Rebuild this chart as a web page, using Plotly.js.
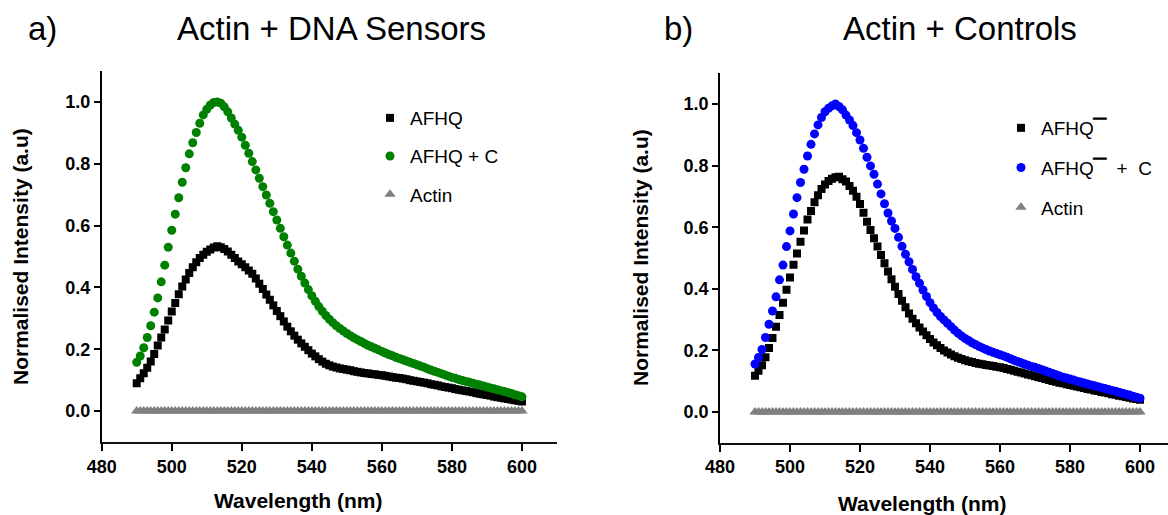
<!DOCTYPE html>
<html>
<head>
<meta charset="utf-8">
<script src="https://cdn.plot.ly/plotly-3.0.1.min.js"></script>
<style>
html, body { margin: 0; padding: 0; overflow: hidden; background: #ffffff; }
#chart { width: 1176px; height: 515px; }
</style>
</head>
<body>
<div id="chart"></div>
<script>
// ---- Data ----
const wavelength = [
  490,491,492,493,494,495,496,497,498,499,
  500,501,502,503,504,505,506,507,508,509,
  510,511,512,513,514,515,516,517,518,519,
  520,521,522,523,524,525,526,527,528,529,
  530,531,532,533,534,535,536,537,538,539,
  540,541,542,543,544,545,546,547,548,549,
  550,551,552,553,554,555,556,557,558,559,
  560,561,562,563,564,565,566,567,568,569,
  570,571,572,573,574,575,576,577,578,579,
  580,581,582,583,584,585,586,587,588,589,
  590,591,592,593,594,595,596,597,598,599,
  600
];

// Panel a) Actin + DNA Sensors
const afhq = [
  0.090,0.106,0.122,0.140,0.160,0.185,0.212,0.238,0.264,0.293,
  0.322,0.350,0.378,0.403,0.426,0.447,0.465,0.481,0.495,0.506,
  0.515,0.523,0.529,0.533,0.530,0.524,0.516,0.506,0.495,0.484,
  0.475,0.465,0.455,0.444,0.429,0.412,0.395,0.377,0.360,0.342,
  0.324,0.307,0.290,0.273,0.258,0.244,0.231,0.219,0.208,0.197,
  0.186,0.177,0.168,0.160,0.153,0.148,0.144,0.141,0.138,0.136,
  0.134,0.132,0.129,0.127,0.125,0.123,0.122,0.120,0.119,0.117,
  0.116,0.114,0.112,0.110,0.108,0.107,0.105,0.103,0.100,0.098,
  0.096,0.094,0.092,0.090,0.087,0.085,0.083,0.080,0.078,0.076,
  0.074,0.071,0.069,0.067,0.065,0.063,0.061,0.058,0.056,0.054,
  0.052,0.050,0.047,0.045,0.043,0.041,0.039,0.037,0.035,0.033,
  0.031
];
const afhqC = [
  0.158,0.178,0.205,0.238,0.276,0.320,0.366,0.418,0.472,0.530,
  0.585,0.637,0.690,0.740,0.787,0.832,0.868,0.901,0.931,0.958,
  0.976,0.990,0.998,1.000,0.996,0.984,0.968,0.948,0.928,0.908,
  0.886,0.860,0.834,0.807,0.780,0.753,0.726,0.699,0.672,0.645,
  0.618,0.591,0.564,0.537,0.511,0.485,0.459,0.436,0.414,0.393,
  0.373,0.355,0.338,0.323,0.309,0.297,0.286,0.276,0.267,0.259,
  0.251,0.244,0.237,0.231,0.225,0.219,0.213,0.208,0.203,0.198,
  0.193,0.188,0.183,0.179,0.174,0.170,0.166,0.162,0.158,0.154,
  0.150,0.146,0.142,0.137,0.133,0.129,0.125,0.121,0.117,0.113,
  0.109,0.106,0.102,0.099,0.096,0.093,0.090,0.087,0.084,0.081,
  0.078,0.075,0.072,0.069,0.066,0.063,0.060,0.057,0.053,0.050,
  0.046
];
const actinA = [
  0,0,0,0,0,0,0,0,0,0,
  0,0,0,0,0,0,0,0,0,0,
  0,0,0,0,0,0,0,0,0,0,
  0,0,0,0,0,0,0,0,0,0,
  0,0,0,0,0,0,0,0,0,0,
  0,0,0,0,0,0,0,0,0,0,
  0,0,0,0,0,0,0,0,0,0,
  0,0,0,0,0,0,0,0,0,0,
  0,0,0,0,0,0,0,0,0,0,
  0,0,0,0,0,0,0,0,0,0,
  0,0,0,0,0,0,0,0,0,0,
  0
];

// Panel b) Actin + Controls
const afhqMinus = [
  0.118,0.134,0.152,0.178,0.208,0.240,0.277,0.315,0.355,0.397,
  0.437,0.478,0.515,0.553,0.589,0.625,0.653,0.681,0.704,0.724,
  0.739,0.750,0.757,0.762,0.764,0.756,0.748,0.734,0.718,0.699,
  0.675,0.647,0.618,0.591,0.564,0.537,0.510,0.483,0.456,0.431,
  0.407,0.383,0.361,0.340,0.320,0.303,0.288,0.274,0.261,0.249,
  0.237,0.226,0.217,0.208,0.200,0.193,0.187,0.181,0.176,0.172,
  0.168,0.165,0.162,0.159,0.157,0.155,0.153,0.151,0.149,0.147,
  0.145,0.143,0.140,0.137,0.134,0.131,0.128,0.125,0.122,0.119,
  0.116,0.113,0.110,0.107,0.104,0.101,0.098,0.095,0.093,0.090,
  0.088,0.085,0.083,0.080,0.078,0.075,0.073,0.070,0.068,0.065,
  0.063,0.061,0.058,0.056,0.053,0.051,0.049,0.046,0.044,0.042,
  0.040
];
const afhqMinusC = [
  0.156,0.177,0.203,0.242,0.285,0.328,0.374,0.429,0.477,0.537,
  0.588,0.643,0.696,0.745,0.788,0.831,0.869,0.903,0.932,0.956,
  0.975,0.986,0.994,1.000,0.992,0.981,0.964,0.948,0.930,0.907,
  0.883,0.856,0.827,0.799,0.772,0.740,0.708,0.676,0.646,0.620,
  0.596,0.567,0.538,0.512,0.488,0.463,0.439,0.418,0.396,0.375,
  0.355,0.338,0.323,0.310,0.299,0.288,0.277,0.266,0.256,0.247,
  0.239,0.232,0.225,0.219,0.213,0.208,0.203,0.198,0.194,0.190,
  0.186,0.182,0.178,0.173,0.168,0.164,0.160,0.156,0.152,0.148,
  0.145,0.141,0.137,0.133,0.129,0.125,0.121,0.117,0.113,0.110,
  0.107,0.104,0.100,0.097,0.094,0.091,0.088,0.085,0.082,0.079,
  0.076,0.073,0.070,0.067,0.064,0.061,0.058,0.055,0.051,0.048,
  0.045
];
const actinB = [
  0,0,0,0,0,0,0,0,0,0,
  0,0,0,0,0,0,0,0,0,0,
  0,0,0,0,0,0,0,0,0,0,
  0,0,0,0,0,0,0,0,0,0,
  0,0,0,0,0,0,0,0,0,0,
  0,0,0,0,0,0,0,0,0,0,
  0,0,0,0,0,0,0,0,0,0,
  0,0,0,0,0,0,0,0,0,0,
  0,0,0,0,0,0,0,0,0,0,
  0,0,0,0,0,0,0,0,0,0,
  0,0,0,0,0,0,0,0,0,0,
  0
];

const xTicks = [480, 500, 520, 540, 560, 580, 600];
const yTicks = [0.0, 0.2, 0.4, 0.6, 0.8, 1.0];

const BAR = '<span style="font-size:22px;font-weight:bold;stroke:#000;stroke-width:1.3px">\u00af</span>';
const namesA = ['AFHQ', 'AFHQ + C', 'Actin'];
const namesB = ['AFHQ' + BAR, 'AFHQ' + BAR + '\u00a0\u00a0+\u00a0\u00a0C', 'Actin'];

// ---- Styling ----
const FONT = 'Liberation Sans, Arial, Helvetica, sans-serif';
const W = 1176, H = 515;
const px = v => v / W;
const py = v => (H - v) / H;

function sq(x, y, name, xa, ya, leg, grp, color) {
  return {type: 'scatter', mode: 'markers', x: x, y: y, name: name,
    xaxis: xa, yaxis: ya, legend: leg, legendgroup: grp,
    marker: {symbol: 'square', size: 8, color: color}};
}
function dot(x, y, name, xa, ya, leg, grp, color) {
  return {type: 'scatter', mode: 'markers', x: x, y: y, name: name,
    xaxis: xa, yaxis: ya, legend: leg, legendgroup: grp,
    marker: {symbol: 'circle', size: 9, color: color}};
}
function tri(x, y, name, xa, ya, leg, grp, color) {
  return {type: 'scatter', mode: 'markers', x: x, y: y, name: name,
    xaxis: xa, yaxis: ya, legend: leg, legendgroup: grp,
    marker: {symbol: 'triangle-up', size: 10, color: color}};
}

const data = [
  sq(wavelength, afhq, namesA[0], 'x', 'y', 'legend', 'a1', '#000000'),
  dot(wavelength, afhqC, namesA[1], 'x', 'y', 'legend', 'a2', '#008000'),
  tri(wavelength, actinA, namesA[2], 'x', 'y', 'legend', 'a3', '#808080'),
  sq(wavelength, afhqMinus, namesB[0], 'x2', 'y2', 'legend2', 'b1', '#000000'),
  dot(wavelength, afhqMinusC, namesB[1], 'x2', 'y2', 'legend2', 'b2', '#0000ff'),
  tri(wavelength, actinB, namesB[2], 'x2', 'y2', 'legend2', 'b3', '#808080')
];

function xaxisDef(domain) {
  return {domain: domain, range: [480, 610], tickvals: xTicks, ticks: 'outside',
    ticklen: 7, tickwidth: 1.5, tickcolor: '#000', showline: true, linecolor: '#111',
    linewidth: 2, showgrid: false, zeroline: false, fixedrange: true,
    tickfont: {family: FONT, size: 18, color: '#000', weight: 'bold'}};
}
function yaxisDef(domain, anchor) {
  return {domain: domain, range: [-0.1, 1.1], tickvals: yTicks, tickformat: '.1f',
    ticks: 'outside', ticklen: 6, tickwidth: 1.5, tickcolor: '#000', showline: true,
    linecolor: '#000', linewidth: 1.5, showgrid: false, zeroline: false, fixedrange: true,
    anchor: anchor,
    tickfont: {family: FONT, size: 18, color: '#000', weight: 'bold'}};
}

const ann = (text, x, y, size, bold, angle) => ({
  text: text, x: x, y: y, xref: 'paper', yref: 'paper', showarrow: false,
  xanchor: 'center', yanchor: 'middle', textangle: angle || 0,
  font: {family: FONT, size: size, color: '#000', weight: bold ? 'bold' : 'normal'}
});

const legendDef = (x, y, gap) => ({
  x: x, y: y, xanchor: 'left', yanchor: 'top', bgcolor: 'rgba(0,0,0,0)',
  borderwidth: 0, tracegroupgap: gap, itemclick: false, itemdoubleclick: false,
  font: {family: FONT, size: 19, color: '#000'}
});

const layout = {
  width: W, height: H,
  margin: {l: 0, r: 0, t: 0, b: 0},
  paper_bgcolor: '#ffffff', plot_bgcolor: '#ffffff',
  showlegend: true,
  xaxis: Object.assign(xaxisDef([px(101.7), px(557)]), {anchor: 'y'}),
  yaxis: yaxisDef([(H - 442) / H, (H - 71) / H], 'x'),
  xaxis2: Object.assign(xaxisDef([px(720), px(1175)]), {anchor: 'y2'}),
  yaxis2: yaxisDef([(H - 442.8) / H, (H - 73.2) / H], 'x2'),
  legend: legendDef(px(370), py(99), 10.5),
  legend2: legendDef(px(1001), py(109), 12),
  annotations: [
    ann('a)', px(42), py(28), 33, false),
    ann('Actin + DNA Sensors', px(331), py(28), 33, false),
    ann('b)', px(679), py(28), 33, false),
    ann('Actin + Controls', px(960), py(28), 33, false),
    ann('Wavelength (nm)', px(298), py(500), 21, true),
    ann('Wavelength (nm)', px(922), py(503), 21, true),
    ann('Normalised Intensity (a.u)', px(20), py(257), 21, true, -90),
    ann('Normalised Intensity (a.u)', px(640), py(258), 21, true, -90)
  ]
};

Plotly.newPlot('chart', data, layout, {displayModeBar: false, staticPlot: false, responsive: false});
</script>
</body>
</html>
